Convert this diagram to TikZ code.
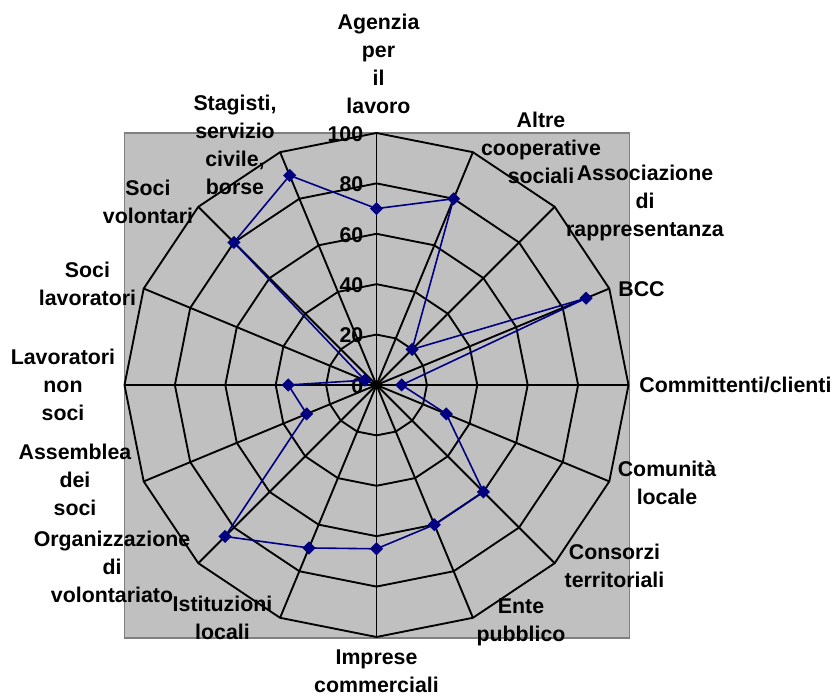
\documentclass[tikz,border=0pt]{standalone}
\usepackage{fontspec}
\setmainfont{Liberation Sans}
\usepackage{tikz}
\usetikzlibrary{shapes.geometric}

\definecolor{plotgray}{RGB}{192,192,192}
\definecolor{framegray}{RGB}{128,128,128}
\definecolor{serie}{RGB}{0,0,128}

\begin{document}
\begin{tikzpicture}[x=0.75pt, y=0.75pt,
        lbl/.style={align=center, inner sep=0pt, font=\bfseries\fontsize{16}{21}\selectfont},
        tick/.style={anchor=east, inner sep=0pt, font=\bfseries\fontsize{16}{21}\selectfont},
        grid/.style={line width=1.4pt, black, line join=round},
        serieline/.style={line width=1.2pt, serie, line join=round},
        marker/.style={diamond, fill=serie, inner sep=0pt, minimum size=10pt}]
        \useasboundingbox (-376.5,-313) rectangle (462.5,385);
        \draw[framegray, fill=plotgray, line width=1.2pt] (-252,-253) rectangle (253,252);
        \foreach \r in {50.4,100.8,151.2,201.6,252}
            \draw[grid] (90:\r) \foreach \k in {1,...,15}{ -- (90-22.5*\k:\r)} -- cycle;
        \foreach \k in {0,...,15}
            \draw[grid] (0,0) -- (90-22.5*\k:252);
        \foreach \v/\r in {0/0,20/50.4,40/100.8,60/151.2,80/201.6,100/252}
            \node[tick] (t\v) at (-13,\r-1) {\v};
        % valori della serie
        \foreach \v [count=\k from 0] in {70,80,20,90,10,30,60,60,65,70,85,30,35,5,80,90}
            \coordinate (p\k) at (90-22.5*\k:2.52*\v);
        \draw[serieline] (p0) \foreach \k in {1,...,15}{ -- (p\k)} -- cycle;
        \foreach \k in {0,...,15}
            \node[marker] (m\k) at (p\k) {};
        \node[lbl] (agenzia) at (2,321) {Agenzia\\per\\il\\lavoro};
        \node[lbl] (altre) at (164.5,237) {Altre\\cooperative\\sociali};
        \node[lbl] (assoc) at (268.5,182) {Associazione\\di\\rappresentanza};
        \node[lbl] (bcc) at (265,96) {BCC};
        \node[lbl] (committenti) at (359,0) {Committenti/clienti};
        \node[lbl] (comunita) at (290.5,-98) {Comunità\\locale};
        \node[lbl] (consorzi) at (238,-181.3) {Consorzi\\territoriali};
        \node[lbl] (ente) at (144.5,-237.3) {Ente\\pubblico};
        \node[lbl] (imprese) at (0,-286) {Imprese\\commerciali};
        \node[lbl] (istituzioni) at (-154,-233) {Istituzioni\\locali};
        \node[lbl] (organizzazione) at (-264.5,-181.5) {Organizzazione\\di\\volontariato};
        \node[lbl] (assemblea) at (-301.5,-95) {Assemblea\\dei\\soci};
        \node[lbl] (nonsoci) at (-313.5,0) {Lavoratori\\non\\soci};
        \node[lbl] (socilav) at (-289,100.7) {Soci\\lavoratori};
        \node[lbl] (socivol) at (-228.5,183) {Soci\\volontari};
        \node[lbl] (stagisti) at (-141.5,240) {Stagisti,\\servizio\\civile,\\borse};
    \end{tikzpicture}
\end{document}
